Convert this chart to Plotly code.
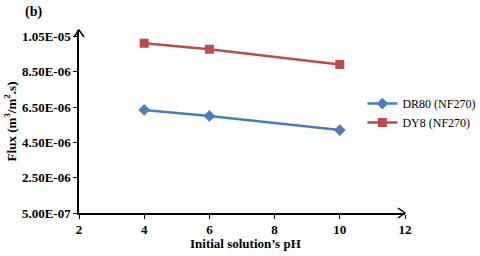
import plotly.graph_objects as go

ph = [4, 6, 10]
dr80 = [6.34e-6, 6.0e-6, 5.2e-6]
dy8 = [1.012e-5, 9.78e-6, 8.92e-6]
series_names = ["DR80 (NF270)", "DY8 (NF270)"]

y_tickvals = [5.0e-7, 2.5e-6, 4.5e-6, 6.5e-6, 8.5e-6, 1.05e-5]
y_ticktext = ["5.00E-07", "2.50E-06", "4.50E-06", "6.50E-06", "8.50E-06", "1.05E-05"]
x_tickvals = [2, 4, 6, 8, 10, 12]

FONT = "Liberation Serif"
BLUE = "#4A7EBB"
RED = "#BE4B48"

fig = go.Figure()
fig.add_trace(go.Scatter(x=ph, y=dr80, mode="lines+markers", name=series_names[0],
                         line=dict(color=BLUE, width=2.5),
                         marker=dict(symbol="diamond", size=9, color=BLUE)))
fig.add_trace(go.Scatter(x=ph, y=dy8, mode="lines+markers", name=series_names[1],
                         line=dict(color=RED, width=2.5),
                         marker=dict(symbol="square", size=9, color=RED)))

fig.update_layout(
    width=480, height=256,
    margin=dict(l=79, r=75, t=30, b=43, autoexpand=False),
    paper_bgcolor="white", plot_bgcolor="white",
    font=dict(family=FONT, color="black", size=12),
    showlegend=True,
    legend=dict(xref="container", yref="paper", x=0.755, y=0.546,
                xanchor="left", yanchor="middle",
                font=dict(family=FONT, size=12, color="black"),
                bgcolor="rgba(0,0,0,0)", itemwidth=30, tracegroupgap=0),
    xaxis=dict(range=[2, 12], tickvals=x_tickvals, showgrid=False, zeroline=False,
               automargin=False,
               showline=True, linecolor="black", linewidth=1.5,
               ticks="outside", ticklen=4, tickcolor="black", tickwidth=1,
               tickfont=dict(family=FONT, size=13, color="black", weight="bold")),
    yaxis=dict(range=[5.0e-7, 1.087e-5], tickvals=y_tickvals, ticktext=y_ticktext,
               showgrid=False, zeroline=False, automargin=False,
               showline=True, linecolor="black", linewidth=1.5,
               ticks="outside", ticklen=4, tickcolor="black", tickwidth=1,
               tickfont=dict(family=FONT, size=13, color="black", weight="bold")),
)

# axis arrowheads
fig.add_shape(type="path", xref="x domain", yref="y domain",
              xsizemode="pixel", ysizemode="pixel", xanchor=0, yanchor=1,
              path="M -5,-7 L 0,0 L 5,-7", line=dict(color="black", width=1.5))
fig.add_shape(type="path", xref="x domain", yref="y domain",
              xsizemode="pixel", ysizemode="pixel", xanchor=1, yanchor=0,
              path="M -7,5 L 0,0 L -7,-5", line=dict(color="black", width=1.5))

# axis titles
fig.add_annotation(text="<b>Initial solution’s pH</b>", xref="paper", yref="paper",
                   x=0.512, y=-0.164, xanchor="center", yanchor="middle", showarrow=False,
                   font=dict(family=FONT, size=13, color="black"))
fig.add_annotation(text="<b>Flux (m<sup>3</sup>/m<sup>2</sup>.s)</b>", xref="paper", yref="paper",
                   x=-0.212, y=0.5, xanchor="center", yanchor="middle", showarrow=False,
                   textangle=-90, font=dict(family=FONT, size=13, color="black"))

fig.add_annotation(text="<b>(b)</b>", xref="paper", yref="paper", x=-0.141, y=1.098,
                   xanchor="center", yanchor="middle", showarrow=False,
                   font=dict(family=FONT, size=14, color="black"))

fig.write_html("out.html", config={"displayModeBar": False},
               post_script="document.body.style.margin='0';")
